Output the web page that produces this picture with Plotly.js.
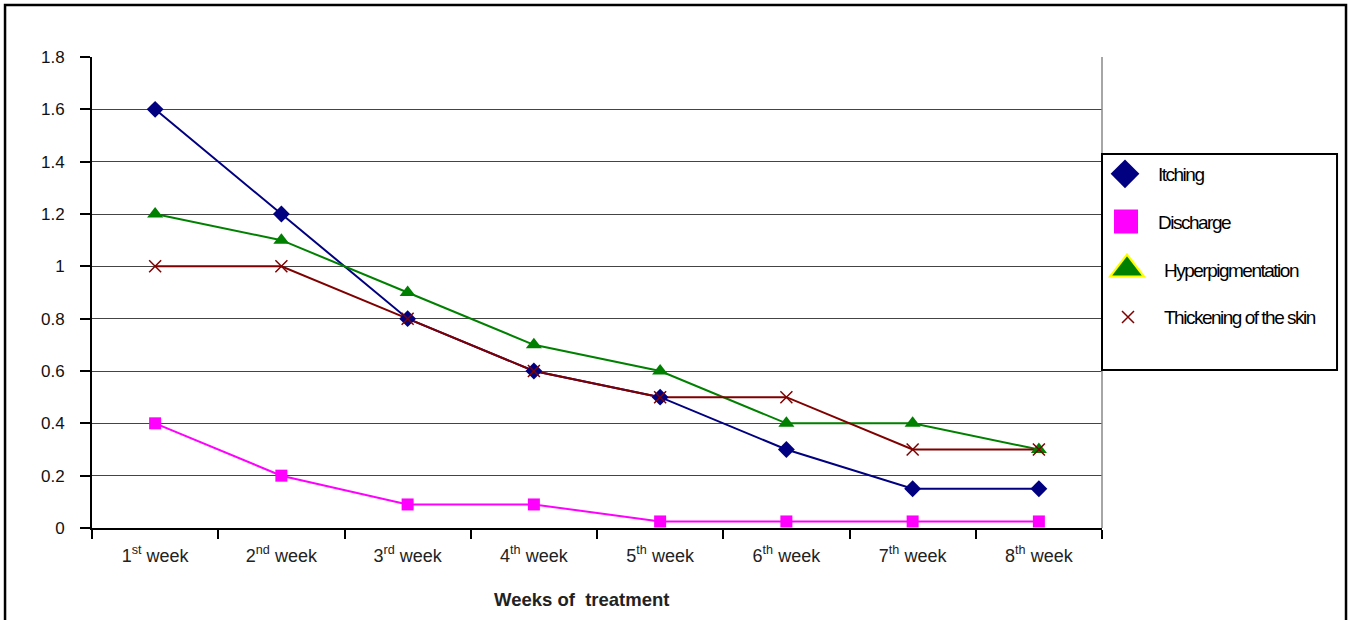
<!DOCTYPE html>
<html>
<head>
<meta charset="utf-8">
<script src="https://cdn.plot.ly/plotly-3.0.1.min.js"></script>
<style>
  html, body { margin: 0; padding: 0; background: #fff; }
  #chart { width: 1351px; height: 620px; }
  .legendtext { letter-spacing: -1.5px; }
</style>
</head>
<body>
<div id="chart"></div>
<script>
// ---- data ----
const weeks = ["1st week", "2nd week", "3rd week", "4th week", "5th week", "6th week", "7th week", "8th week"];
const weekLabels = ["1<sup>st</sup> week", "2<sup>nd</sup> week", "3<sup>rd</sup> week", "4<sup>th</sup> week",
                    "5<sup>th</sup> week", "6<sup>th</sup> week", "7<sup>th</sup> week", "8<sup>th</sup> week"];
const itching = [1.6, 1.2, 0.8, 0.6, 0.5, 0.3, 0.15, 0.15];
const discharge = [0.4, 0.2, 0.09, 0.09, 0.025, 0.025, 0.025, 0.025];
const hyperpigmentation = [1.2, 1.1, 0.9, 0.7, 0.6, 0.4, 0.4, 0.3];
const thickening = [1.0, 1.0, 0.8, 0.6, 0.5, 0.5, 0.3, 0.3];
const yTicks = [0, 0.2, 0.4, 0.6, 0.8, 1, 1.2, 1.4, 1.6, 1.8];

const series = [
  { name: "Itching", y: itching, color: "#000080", symbol: "diamond", size: 13 },
  { name: "Discharge", y: discharge, color: "#FF00FF", symbol: "square", size: 12 },
  { name: "Hyperpigmentation", y: hyperpigmentation, color: "#008000", symbol: "triangle-up", size: 14 },
  { name: "Thickening of the skin", y: thickening, color: "#800000", symbol: "x-thin-open", size: 12 }
];

const traces = [];
// connecting lines (not shown in legend)
series.forEach((s, i) => {
  traces.push({ name: s.name, x: weeks, y: s.y, type: "scatter", mode: "lines",
    line: { color: s.color, width: 2 }, showlegend: false, legendgroup: "g" + i });
});
// markers (shown in legend, marker only as in the reference)
series.forEach((s, i) => {
  traces.push({ name: s.name, x: weeks, y: s.y, type: "scatter", mode: "markers", legendgroup: "g" + i,
    marker: { symbol: s.symbol, size: s.size, color: s.color, line: { color: s.color, width: s.symbol === "x-thin-open" ? 1.5 : 0 } } });
});

const layout = {
  width: 1351, height: 620,
  margin: { l: 92, r: 249, t: 57, b: 92 },
  paper_bgcolor: "#fff", plot_bgcolor: "#fff",
  font: { family: "Liberation Sans, Arial, sans-serif", color: "#222" },
  showlegend: true,
  legend: {
    x: 1.0, xanchor: "left", y: 0.792, yanchor: "top",
    font: { size: 19, color: "#000" },
    traceorder: "grouped", tracegroupgap: 20,
    bgcolor: "rgba(0,0,0,0)", borderwidth: 0
  },
  xaxis: {
    type: "category",
    tickmode: "array", tickvals: weeks, ticktext: weekLabels,
    tickson: "boundaries", ticks: "outside", ticklen: 9, tickwidth: 2, tickcolor: "#000",
    ticklabelstandoff: 10,
    showline: true, linecolor: "#000", linewidth: 2,
    showgrid: false, zeroline: false,
    tickfont: { size: 18, color: "#222" },
    range: [-0.5, 7.5]
  },
  yaxis: {
    range: [0, 1.8], tickmode: "array", tickvals: yTicks,
    ticks: "outside", ticklen: 10, tickwidth: 2, tickcolor: "#000",
    ticklabelstandoff: 12,
    showline: true, linecolor: "#000", linewidth: 2,
    showgrid: true, gridcolor: "#444", gridwidth: 1, zeroline: false,
    tickfont: { size: 17, color: "#111" }
  },
  annotations: [
    { text: "<b>Weeks of  treatment</b>", xref: "paper", yref: "paper",
      x: 0.485, y: -0.151, xanchor: "center", yanchor: "middle", showarrow: false,
      font: { size: 18.5, color: "#222" } }
  ],
  shapes: [
    // right edge of plot area
    { type: "line", xref: "paper", yref: "paper", x0: 1, x1: 1, y0: 0, y1: 1, line: { color: "#888", width: 1.5 } },
    // legend box
    { type: "rect", xref: "paper", yref: "paper", x0: 1.0, x1: 1.2327, y0: 0.3355, y1: 0.7941,
      line: { color: "#000", width: 2 } },
    // outer frame
    { type: "rect", xref: "paper", yref: "paper", x0: -0.0861, x1: 1.2416, y0: -0.25, y1: 1.1104,
      line: { color: "#000", width: 2.5 } }
  ]
};

// legend symbol styling like the reference (larger symbols, yellow rim on the triangle)
const legendSymbolStyle = [
  { dx: 23, scale: 1.7 },
  { dx: 24, scale: 2.0 },
  { dx: 25, scale: 2.1, stroke: "#FFFF00", strokeWidth: 1 },
  { dx: 26, scale: 1.0 }
];
const legendTextX = [56, 56, 62, 62];

Plotly.newPlot("chart", traces, layout, { displayModeBar: false, staticPlot: true }).then(gd => {
  gd.querySelectorAll(".legend [clip-path]").forEach(el => el.removeAttribute("clip-path"));
  const items = gd.querySelectorAll(".legend .traces");
  items.forEach((item, i) => {
    const st = legendSymbolStyle[i];
    if (!st) return;
    item.querySelectorAll("path.scatterpts").forEach(p => {
      p.setAttribute("transform", `translate(${st.dx},0) scale(${st.scale})`);
      if (st.stroke) {
        p.style.stroke = st.stroke;
        p.style.strokeWidth = st.strokeWidth + "px";
        p.style.strokeOpacity = 1;
      }
    });
    const t = item.querySelector("text.legendtext");
    if (t) t.setAttribute("x", legendTextX[i]);
  });
});
</script>
</body>
</html>
